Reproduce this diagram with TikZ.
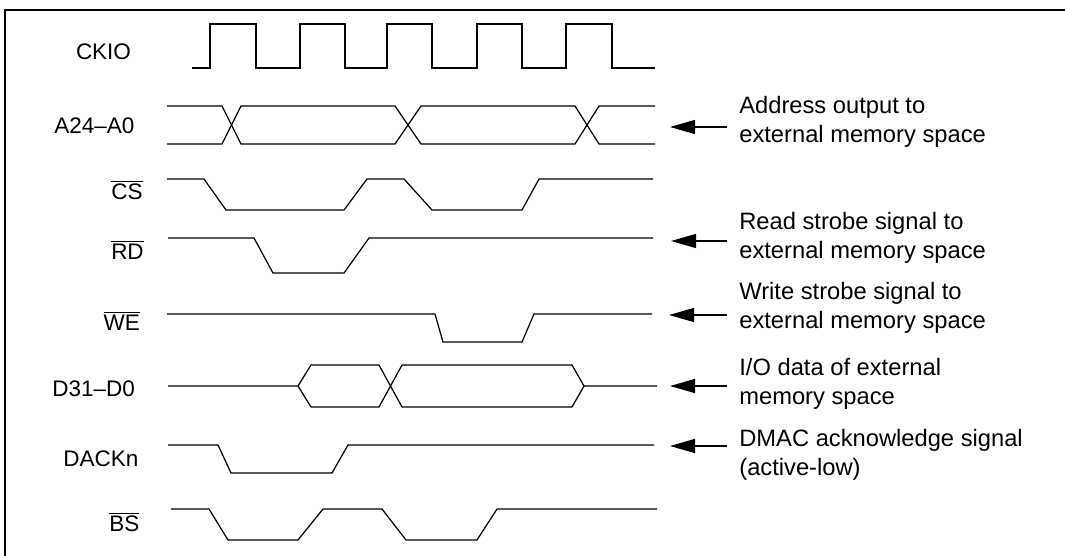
\documentclass[tikz,border=0pt]{standalone}
\usepackage{fontspec}
\setmainfont{Liberation Sans}
\usepackage{tikz}
\usetikzlibrary{arrows.meta}

\begin{document}
\begin{tikzpicture}[
    x=0.02cm, y=-0.02cm,
    sig/.style={line width=0.7pt, line join=miter},
    frame/.style={line width=1.2pt},
    pin name/.style={anchor=base, font=\fontsize{12.8}{15}\selectfont},
    note/.style={anchor=west, align=left, inner xsep=0.24cm, inner ysep=0pt,
        font=\fontsize{13.5}{16.6}\selectfont},
    pointer/.style={-{Triangle[length=0.5cm, width=0.28cm]}, line width=0.7pt},
]
\useasboundingbox (0,0) rectangle (1065,555);

% === Khung ===
\draw[frame] (5,560) -- (5,10) -- (1070,10);

% === Tên chân ===
\node[pin name] (ckio) at (103.5,59.5) {CKIO};
\node[pin name] (addr) at (94.5,133.3) {A24--A0};
\node[pin name] (cs)   at (127,199.3) {$\overline{\mbox{CS}}$};
\node[pin name] (rd)   at (127.5,259.3) {$\overline{\mbox{RD}}$};
\node[pin name] (we)   at (121.7,330) {$\overline{\mbox{WE}}$};
\node[pin name] (data) at (93.7,396.7) {D31--D0};
\node[pin name] (dack) at (100.8,466.7) {DACKn};
\node[pin name] (bs)   at (124.4,531.7) {$\overline{\mbox{BS}}$};

% === CKIO ===
\draw[sig] (192,68)
    \foreach \r/\f in {210/256, 300/345, 387/432, 477/522, 566/612} {
        -- (\r,68) -- (\r,24) -- (\f,24) -- (\f,68)
    } -- (655,68);

% === A24--A0 ===
\draw[sig] (167,106) -- (222,106) -- (241,144) -- (395,144) -- (421,106)
    -- (575,106) -- (599,144) -- (655,144);
\draw[sig] (167,144) -- (222,144) -- (241,106) -- (395,106) -- (421,144)
    -- (575,144) -- (599,106) -- (655,106);

% === CS ===
\draw[sig] (167,179) -- (204,179) -- (226,210) -- (344,210) -- (367,179)
    -- (404,179) -- (432,210) -- (522,210) -- (539,179) -- (653,179);

% === RD ===
\draw[sig] (168,238) -- (254,238) -- (273,273) -- (344,273) -- (369,238)
    -- (653,238);

% === WE ===
\draw[sig] (167,314) -- (435,314) -- (443,342) -- (522,342) -- (534,314)
    -- (652,314);

% === D31--D0 ===
\draw[sig] (168,386) -- (298,386) -- (311,365) -- (379,365) -- (402,407)
    -- (572,407) -- (584,386) -- (657,386);
\draw[sig] (298,386) -- (311,407) -- (379,407) -- (402,365) -- (572,365)
    -- (584,386);

% === DACKn ===
\draw[sig] (168,445) -- (218,445) -- (231,473) -- (332,473) -- (348,445)
    -- (654,445);

% === BS ===
\draw[sig] (171,509) -- (209,509) -- (228,540) -- (298,540) -- (323,509)
    -- (382,509) -- (406,540) -- (477,540) -- (497,509) -- (657,509);

% === Chú thích bên phải ===
\node[note] (addr note) at (727,122) {Address output to\\external memory space};
\node[note] (rd note)   at (727,238) {Read strobe signal to\\external memory space};
\node[note] (we note)   at (727,307.5) {Write strobe signal to\\external memory space};
\node[note] (data note) at (727,383.5) {I/O data of external\\memory space};
\node[note] (dack note) at (727,454.5) {DMAC acknowledge signal\\(active-low)};

\coordinate (addr tip) at (670,127);
\coordinate (rd tip)   at (671,241);
\coordinate (we tip)   at (669,315);
\coordinate (data tip) at (670,386);
\coordinate (dack tip) at (670,446);

\draw[pointer] (addr note.west |- addr tip) -- (addr tip);
\draw[pointer] (rd note.west |- rd tip) -- (rd tip);
\draw[pointer] (we note.west |- we tip) -- (we tip);
\draw[pointer] (data note.west |- data tip) -- (data tip);
\draw[pointer] (dack note.west |- dack tip) -- (dack tip);

\end{tikzpicture}
\end{document}
